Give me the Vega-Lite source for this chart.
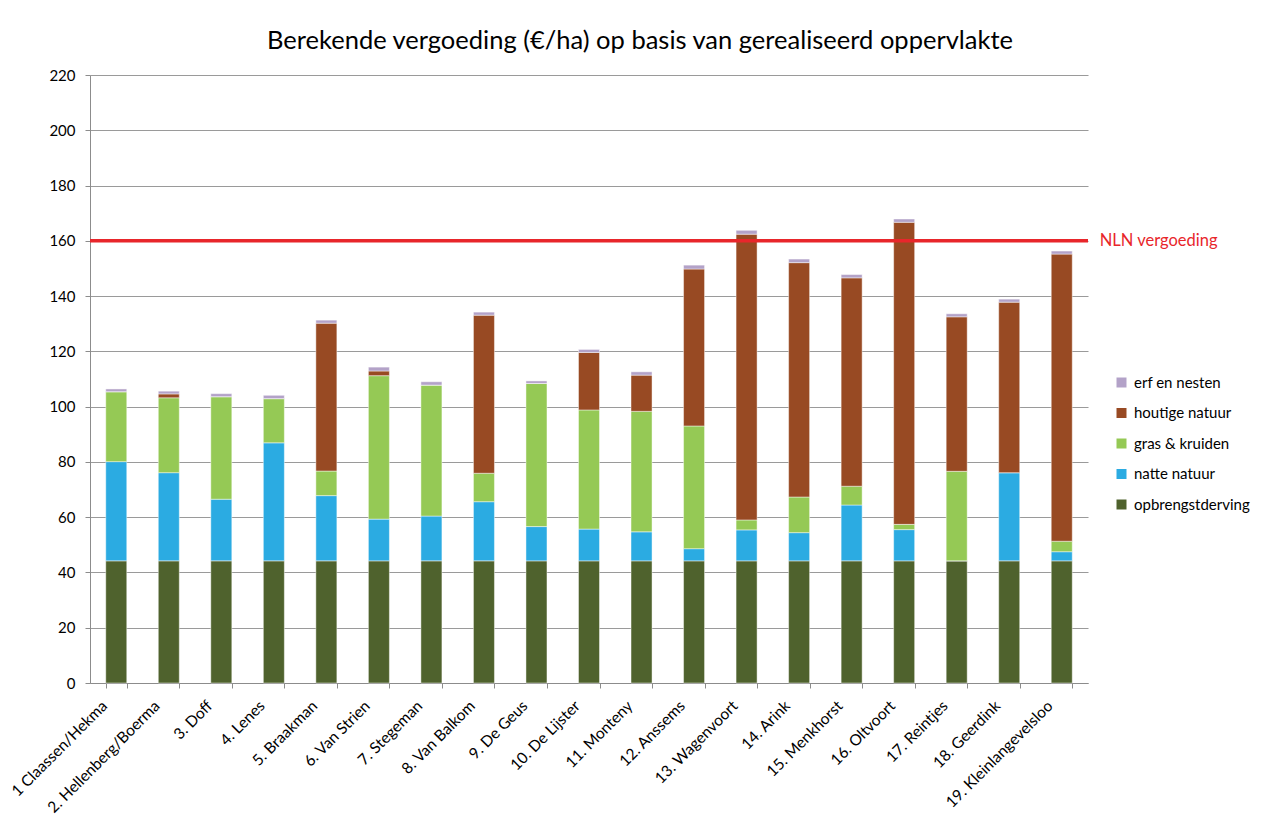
{
  "$schema": "https://vega.github.io/schema/vega-lite/v6.json",
  "width": 998,
  "height": 608,
  "autosize": "none",
  "padding": {"left": 90, "top": 75, "right": 181, "bottom": 146},
  "background": "white",
  "title": {
    "text": "Berekende vergoeding (€/ha) op basis van gerealiseerd oppervlakte",
    "font": "Lato",
    "fontSize": 25.5,
    "fontWeight": "normal",
    "color": "#000000",
    "anchor": "middle",
    "dx": 51,
    "offset": 14
  },
  "datasets": {
    "posten": [
      {"post": "opbrengstderving", "rang": 1},
      {"post": "natte natuur", "rang": 2},
      {"post": "gras & kruiden", "rang": 3},
      {"post": "houtige natuur", "rang": 4},
      {"post": "erf en nesten", "rang": 5}
    ],
    "bars": [
      {"boer": "1  Claassen/Hekma", "post": "opbrengstderving", "bedrag": 44.2},
      {"boer": "1  Claassen/Hekma", "post": "natte natuur", "bedrag": 35.9},
      {"boer": "1  Claassen/Hekma", "post": "gras & kruiden", "bedrag": 25.3},
      {"boer": "1  Claassen/Hekma", "post": "houtige natuur", "bedrag": 0},
      {"boer": "1  Claassen/Hekma", "post": "erf en nesten", "bedrag": 1.0},
      {"boer": "2. Hellenberg/Boerma", "post": "opbrengstderving", "bedrag": 44.2},
      {"boer": "2. Hellenberg/Boerma", "post": "natte natuur", "bedrag": 31.9},
      {"boer": "2. Hellenberg/Boerma", "post": "gras & kruiden", "bedrag": 27.1},
      {"boer": "2. Hellenberg/Boerma", "post": "houtige natuur", "bedrag": 1.4},
      {"boer": "2. Hellenberg/Boerma", "post": "erf en nesten", "bedrag": 1.0},
      {"boer": "3. Doff", "post": "opbrengstderving", "bedrag": 44.2},
      {"boer": "3. Doff", "post": "natte natuur", "bedrag": 22.3},
      {"boer": "3. Doff", "post": "gras & kruiden", "bedrag": 37.1},
      {"boer": "3. Doff", "post": "houtige natuur", "bedrag": 0},
      {"boer": "3. Doff", "post": "erf en nesten", "bedrag": 1.1},
      {"boer": "4. Lenes", "post": "opbrengstderving", "bedrag": 44.2},
      {"boer": "4. Lenes", "post": "natte natuur", "bedrag": 42.7},
      {"boer": "4. Lenes", "post": "gras & kruiden", "bedrag": 16.0},
      {"boer": "4. Lenes", "post": "houtige natuur", "bedrag": 0},
      {"boer": "4. Lenes", "post": "erf en nesten", "bedrag": 1.2},
      {"boer": "5. Braakman", "post": "opbrengstderving", "bedrag": 44.2},
      {"boer": "5. Braakman", "post": "natte natuur", "bedrag": 23.6},
      {"boer": "5. Braakman", "post": "gras & kruiden", "bedrag": 8.9},
      {"boer": "5. Braakman", "post": "houtige natuur", "bedrag": 53.5},
      {"boer": "5. Braakman", "post": "erf en nesten", "bedrag": 1.1},
      {"boer": "6. Van Strien", "post": "opbrengstderving", "bedrag": 44.2},
      {"boer": "6. Van Strien", "post": "natte natuur", "bedrag": 15.1},
      {"boer": "6. Van Strien", "post": "gras & kruiden", "bedrag": 51.9},
      {"boer": "6. Van Strien", "post": "houtige natuur", "bedrag": 1.7},
      {"boer": "6. Van Strien", "post": "erf en nesten", "bedrag": 1.4},
      {"boer": "7. Stegeman", "post": "opbrengstderving", "bedrag": 44.2},
      {"boer": "7. Stegeman", "post": "natte natuur", "bedrag": 16.2},
      {"boer": "7. Stegeman", "post": "gras & kruiden", "bedrag": 47.4},
      {"boer": "7. Stegeman", "post": "houtige natuur", "bedrag": 0},
      {"boer": "7. Stegeman", "post": "erf en nesten", "bedrag": 1.2},
      {"boer": "8. Van Balkom", "post": "opbrengstderving", "bedrag": 44.2},
      {"boer": "8. Van Balkom", "post": "natte natuur", "bedrag": 21.4},
      {"boer": "8. Van Balkom", "post": "gras & kruiden", "bedrag": 10.3},
      {"boer": "8. Van Balkom", "post": "houtige natuur", "bedrag": 57.2},
      {"boer": "8. Van Balkom", "post": "erf en nesten", "bedrag": 1.1},
      {"boer": "9. De Geus", "post": "opbrengstderving", "bedrag": 44.2},
      {"boer": "9. De Geus", "post": "natte natuur", "bedrag": 12.4},
      {"boer": "9. De Geus", "post": "gras & kruiden", "bedrag": 51.8},
      {"boer": "9. De Geus", "post": "houtige natuur", "bedrag": 0},
      {"boer": "9. De Geus", "post": "erf en nesten", "bedrag": 0.9},
      {"boer": "10. De Lijster", "post": "opbrengstderving", "bedrag": 44.2},
      {"boer": "10. De Lijster", "post": "natte natuur", "bedrag": 11.5},
      {"boer": "10. De Lijster", "post": "gras & kruiden", "bedrag": 43.1},
      {"boer": "10. De Lijster", "post": "houtige natuur", "bedrag": 20.8},
      {"boer": "10. De Lijster", "post": "erf en nesten", "bedrag": 1.1},
      {"boer": "11. Monteny", "post": "opbrengstderving", "bedrag": 44.2},
      {"boer": "11. Monteny", "post": "natte natuur", "bedrag": 10.5},
      {"boer": "11. Monteny", "post": "gras & kruiden", "bedrag": 43.6},
      {"boer": "11. Monteny", "post": "houtige natuur", "bedrag": 13.1},
      {"boer": "11. Monteny", "post": "erf en nesten", "bedrag": 1.2},
      {"boer": "12. Anssems", "post": "opbrengstderving", "bedrag": 44.2},
      {"boer": "12. Anssems", "post": "natte natuur", "bedrag": 4.4},
      {"boer": "12. Anssems", "post": "gras & kruiden", "bedrag": 44.4},
      {"boer": "12. Anssems", "post": "houtige natuur", "bedrag": 56.8},
      {"boer": "12. Anssems", "post": "erf en nesten", "bedrag": 1.4},
      {"boer": "13. Wagenvoort", "post": "opbrengstderving", "bedrag": 44.2},
      {"boer": "13. Wagenvoort", "post": "natte natuur", "bedrag": 11.2},
      {"boer": "13. Wagenvoort", "post": "gras & kruiden", "bedrag": 3.6},
      {"boer": "13. Wagenvoort", "post": "houtige natuur", "bedrag": 103.4},
      {"boer": "13. Wagenvoort", "post": "erf en nesten", "bedrag": 1.4},
      {"boer": "14. Arink", "post": "opbrengstderving", "bedrag": 44.2},
      {"boer": "14. Arink", "post": "natte natuur", "bedrag": 10.2},
      {"boer": "14. Arink", "post": "gras & kruiden", "bedrag": 12.9},
      {"boer": "14. Arink", "post": "houtige natuur", "bedrag": 84.8},
      {"boer": "14. Arink", "post": "erf en nesten", "bedrag": 1.3},
      {"boer": "15. Menkhorst", "post": "opbrengstderving", "bedrag": 44.2},
      {"boer": "15. Menkhorst", "post": "natte natuur", "bedrag": 20.2},
      {"boer": "15. Menkhorst", "post": "gras & kruiden", "bedrag": 6.8},
      {"boer": "15. Menkhorst", "post": "houtige natuur", "bedrag": 75.4},
      {"boer": "15. Menkhorst", "post": "erf en nesten", "bedrag": 1.2},
      {"boer": "16. Oltvoort", "post": "opbrengstderving", "bedrag": 44.2},
      {"boer": "16. Oltvoort", "post": "natte natuur", "bedrag": 11.3},
      {"boer": "16. Oltvoort", "post": "gras & kruiden", "bedrag": 1.9},
      {"boer": "16. Oltvoort", "post": "houtige natuur", "bedrag": 109.3},
      {"boer": "16. Oltvoort", "post": "erf en nesten", "bedrag": 1.2},
      {"boer": "17. Reintjes", "post": "opbrengstderving", "bedrag": 44.2},
      {"boer": "17. Reintjes", "post": "natte natuur", "bedrag": 0},
      {"boer": "17. Reintjes", "post": "gras & kruiden", "bedrag": 32.4},
      {"boer": "17. Reintjes", "post": "houtige natuur", "bedrag": 55.9},
      {"boer": "17. Reintjes", "post": "erf en nesten", "bedrag": 1.1},
      {"boer": "18. Geerdink", "post": "opbrengstderving", "bedrag": 44.2},
      {"boer": "18. Geerdink", "post": "natte natuur", "bedrag": 31.9},
      {"boer": "18. Geerdink", "post": "gras & kruiden", "bedrag": 0},
      {"boer": "18. Geerdink", "post": "houtige natuur", "bedrag": 61.7},
      {"boer": "18. Geerdink", "post": "erf en nesten", "bedrag": 1.1},
      {"boer": "19. Kleinlangevelsloo", "post": "opbrengstderving", "bedrag": 44.2},
      {"boer": "19. Kleinlangevelsloo", "post": "natte natuur", "bedrag": 3.3},
      {"boer": "19. Kleinlangevelsloo", "post": "gras & kruiden", "bedrag": 3.8},
      {"boer": "19. Kleinlangevelsloo", "post": "houtige natuur", "bedrag": 103.9},
      {"boer": "19. Kleinlangevelsloo", "post": "erf en nesten", "bedrag": 1.1}
    ],
    "drempel": [
      {"label": "NLN vergoeding", "waarde": 160, "boer": "19. Kleinlangevelsloo"}
    ]
  },
  "layer": [
    {
      "data": {"name": "bars"},
      "transform": [
        {"lookup": "post", "from": {"data": {"name": "posten"}, "key": "post", "fields": ["rang"]}}
      ],
      "mark": {"type": "bar", "stroke": "white", "strokeOpacity": 0.45, "strokeWidth": 1},
      "encoding": {
        "x": {
          "field": "boer",
          "type": "nominal",
          "sort": null,
          "scale": {"paddingInner": 0.6, "paddingOuter": 0.3},
          "axis": {
            "title": null,
            "labelAngle": -45,
            "labelAlign": "right",
            "labelBaseline": "middle",
            "labelFont": "Lato",
            "labelFontSize": 15.5,
            "labelColor": "#000000",
            "labelPadding": 15,
            "labelOffset": -12,
            "tickBand": "extent",
            "tickSize": 5,
            "tickColor": "#8c8c8c",
            "domainColor": "#8c8c8c",
            "labelOverlap": false,
            "labelLimit": 300
          }
        },
        "y": {
          "field": "bedrag",
          "type": "quantitative",
          "aggregate": "sum",
          "stack": "zero",
          "scale": {"domain": [0, 220], "nice": false},
          "axis": {
            "title": null,
            "values": [0, 20, 40, 60, 80, 100, 120, 140, 160, 180, 200, 220],
            "labelFont": "Lato",
            "labelFontSize": 15,
            "labelColor": "#000000",
            "labelPadding": 10,
            "tickSize": 5,
            "tickColor": "#8c8c8c",
            "domainColor": "#8c8c8c",
            "gridColor": "#9a9a9a",
            "gridWidth": 1.2
          }
        },
        "order": {"field": "rang", "type": "quantitative", "sort": "ascending"},
        "color": {
          "field": "post",
          "type": "nominal",
          "sort": ["erf en nesten", "houtige natuur", "gras & kruiden", "natte natuur", "opbrengstderving"],
          "scale": {
            "domain": ["erf en nesten", "houtige natuur", "gras & kruiden", "natte natuur", "opbrengstderving"],
            "range": ["#b3a2c8", "#984a23", "#95c955", "#2babe2", "#4f622d"]
          },
          "legend": {
            "title": null,
            "orient": "none",
            "legendX": 1024,
            "legendY": 300,
            "symbolType": "square",
            "symbolSize": 100,
            "symbolStrokeWidth": 0,
            "labelFont": "Lato",
            "labelFontSize": 15,
            "labelColor": "#000000",
            "labelOffset": 5,
            "rowPadding": 14.5
          }
        }
      }
    },
    {
      "data": {"name": "drempel"},
      "mark": {"type": "rule", "color": "#e8262b", "strokeWidth": 3.5},
      "encoding": {
        "y": {"field": "waarde", "type": "quantitative"}
      }
    },
    {
      "data": {"name": "drempel"},
      "mark": {"type": "text", "align": "left", "baseline": "middle", "dx": 38, "font": "Lato", "fontSize": 16.5, "color": "#e8262b"},
      "encoding": {
        "x": {"field": "boer", "type": "nominal", "sort": null},
        "y": {"field": "waarde", "type": "quantitative"},
        "text": {"field": "label"}
      }
    }
  ],
  "config": {
    "view": {"stroke": null}
  }
}
